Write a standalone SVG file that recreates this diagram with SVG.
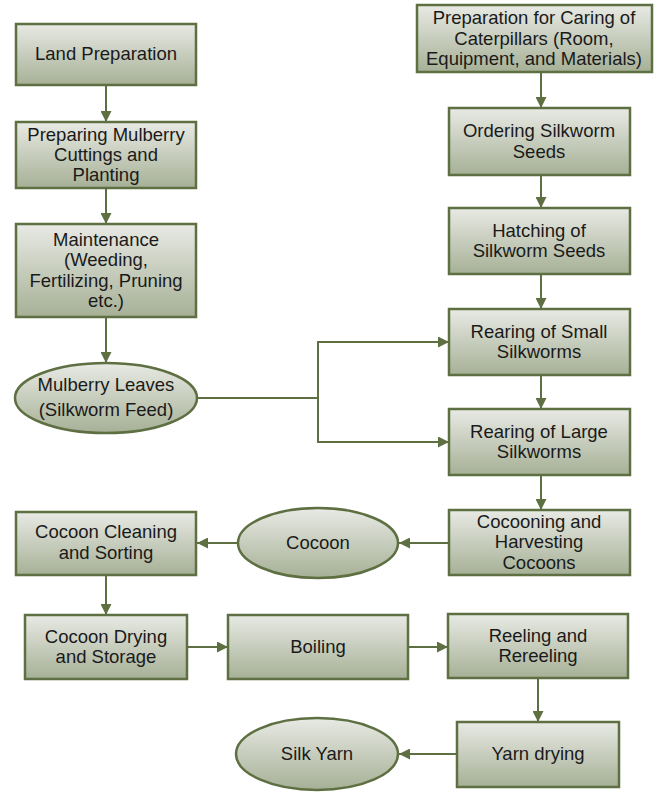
<svg xmlns="http://www.w3.org/2000/svg" width="661" height="795" viewBox="0 0 661 795">
<defs>
<linearGradient id="g" x1="0" y1="0" x2="0" y2="1">
<stop offset="0" stop-color="#e8eae4"/>
<stop offset="1" stop-color="#a6b096"/>
</linearGradient>
<marker id="a" viewBox="0 0 10 10" refX="10" refY="5" markerWidth="11" markerHeight="11" markerUnits="userSpaceOnUse" orient="auto">
<path d="M0,0 L10,5 L0,10 Z" fill="#5e6f42"/>
</marker>
</defs>
<style>
.n rect, .n ellipse { fill: url(#g); stroke: #5e6f42; stroke-width: 2.5; }
.n text { font-family: "Liberation Sans", sans-serif; font-size: 18.5px; fill: #1a1a1a; text-anchor: middle; }
.c path { fill: none; stroke: #5e6f42; stroke-width: 2; marker-end: url(#a); }
.c path.p { marker-end: none; }
</style>
<rect width="661" height="795" fill="#ffffff"/>
<g class="c" id="connectors">
<path d="M106,85 V122"/>
<path d="M106,188 V224"/>
<path d="M106,317 V363"/>
<path class="p" d="M197,398 H318"/>
<path d="M318,398 V342 H449"/>
<path d="M318,398 V442 H449"/>
<path d="M541,72 V108"/>
<path d="M541,175 V208"/>
<path d="M541,274 V309"/>
<path d="M541,375 V409"/>
<path d="M541,475 V510"/>
<path d="M449,543 H399"/>
<path d="M238,543 H197"/>
<path d="M106,575 V615"/>
<path d="M187,647 H228"/>
<path d="M408,647 H448"/>
<path d="M538,678 V722"/>
<path d="M457,754 H399"/>
</g>
<g class="n" id="land-preparation"><rect x="16" y="24" width="180" height="61"/><text x="106" y="60">Land Preparation</text></g>
<g class="n" id="preparing-mulberry"><rect x="16" y="122" width="180" height="66"/><text x="106" y="141">Preparing Mulberry</text><text x="106" y="161">Cuttings and</text><text x="106" y="181">Planting</text></g>
<g class="n" id="maintenance"><rect x="16" y="224" width="180" height="93"/><text x="106" y="246">Maintenance</text><text x="106" y="266">(Weeding,</text><text x="106" y="287">Fertilizing, Pruning</text><text x="106" y="307">etc.)</text></g>
<g class="n" id="mulberry-leaves"><ellipse cx="106" cy="398" rx="91" ry="35"/><text x="106" y="391">Mulberry Leaves</text><text x="106" y="416">(Silkworm Feed)</text></g>
<g class="n" id="prep-caterpillars"><rect x="417" y="5" width="235" height="67"/><text x="534" y="24">Preparation for Caring of</text><text x="534" y="45">Caterpillars (Room,</text><text x="534" y="65">Equipment, and Materials)</text></g>
<g class="n" id="ordering"><rect x="449" y="108" width="181" height="67"/><text x="539" y="137">Ordering Silkworm</text><text x="539" y="158">Seeds</text></g>
<g class="n" id="hatching"><rect x="449" y="208" width="181" height="66"/><text x="539" y="237">Hatching of</text><text x="539" y="257">Silkworm Seeds</text></g>
<g class="n" id="rearing-small"><rect x="449" y="309" width="181" height="66"/><text x="539" y="338">Rearing of Small</text><text x="539" y="358">Silkworms</text></g>
<g class="n" id="rearing-large"><rect x="449" y="409" width="181" height="66"/><text x="539" y="438">Rearing of Large</text><text x="539" y="458">Silkworms</text></g>
<g class="n" id="cocooning"><rect x="449" y="510" width="181" height="65"/><text x="539" y="528">Cocooning and</text><text x="539" y="548">Harvesting</text><text x="539" y="569">Cocoons</text></g>
<g class="n" id="cocoon"><ellipse cx="318" cy="543" rx="80" ry="35"/><text x="318" y="549">Cocoon</text></g>
<g class="n" id="cocoon-cleaning"><rect x="16" y="512" width="180" height="63"/><text x="106" y="538">Cocoon Cleaning</text><text x="106" y="559">and Sorting</text></g>
<g class="n" id="cocoon-drying"><rect x="25" y="615" width="162" height="64"/><text x="106" y="643">Cocoon Drying</text><text x="106" y="663">and Storage</text></g>
<g class="n" id="boiling"><rect x="228" y="615" width="180" height="64"/><text x="318" y="653">Boiling</text></g>
<g class="n" id="reeling"><rect x="448" y="614" width="180" height="64"/><text x="538" y="642">Reeling and</text><text x="538" y="662">Rereeling</text></g>
<g class="n" id="yarn-drying"><rect x="457" y="722" width="162" height="65"/><text x="538" y="760">Yarn drying</text></g>
<g class="n" id="silk-yarn"><ellipse cx="317" cy="754" rx="81" ry="36"/><text x="317" y="760">Silk Yarn</text></g>
</svg>
